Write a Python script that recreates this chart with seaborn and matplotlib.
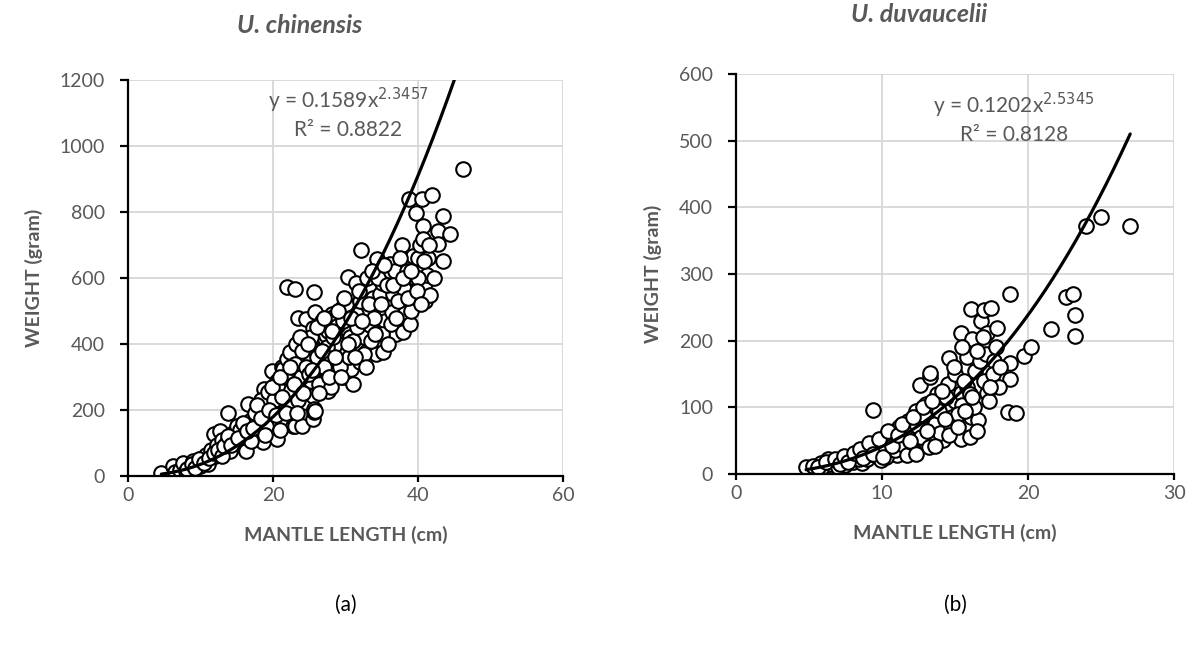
import numpy as np
import pandas as pd
import matplotlib
matplotlib.use("Agg")
import matplotlib.pyplot as plt
import seaborn as sns

# ---------------- data ----------------
titles = ["U. chinensis", "U. duvaucelii"]
panel_tags = ["(a)", "(b)"]
x_label = "MANTLE LENGTH (cm)"
y_label = "WEIGHT (gram)"

chin_x = [4.6, 6.2, 6.5, 7.2, 7.6, 8.0, 8.5, 9.0, 9.5, 9.9, 10.3, 10.8, 11.0, 11.5, 11.8, 12.0, 12.3, 12.7,
          13.0, 13.6, 13.8, 14.0, 14.5, 15.0, 15.4, 15.8, 16.1, 16.3, 16.6, 16.8, 17.0, 17.3, 17.7, 18.0, 18.2, 18.6, 18.7, 18.7,
          19.1, 19.5, 19.8, 20.0, 20.3, 20.5, 20.5, 20.7, 21.0, 21.2, 21.4, 21.4, 21.9, 21.9, 22.2, 22.3, 22.6, 22.8, 23.1, 23.0,
          23.2, 23.5, 23.7, 24.0, 24.2, 24.4, 24.6, 24.6, 24.6,
          25.1, 25.1, 25.3, 25.5, 25.5, 25.5, 25.6, 25.6, 25.6, 25.8, 25.8, 26.2, 26.5, 26.9, 27.2, 27.3, 27.6, 27.6, 27.9, 28.1,
          28.3, 28.5, 29.0, 29.0, 29.5, 29.7, 30.0, 30.2, 30.3, 30.3, 30.6, 30.7,
          31.0, 31.2, 31.5, 31.5, 32.0, 32.2, 32.5, 33.0, 33.4, 33.4, 33.8, 34.2, 34.3, 34.6, 34.8, 35.0, 35.2, 35.5, 36.0, 36.1,
          36.4, 36.6,
          37.0, 37.7, 37.8, 37.9, 37.9, 38.1, 38.2, 38.8, 38.9, 39.3, 39.3, 39.6, 39.7, 40.0, 40.3, 40.5, 40.7, 40.7, 41.0, 41.0,
          41.2, 41.4, 41.7, 41.9, 42.7, 42.7, 43.4, 43.5, 44.4, 46.2,
          14.8, 15.5, 16.0, 17.0, 17.5, 18.4, 19.0, 19.3, 19.8, 20.2, 20.8, 21.0, 21.6, 22.0, 22.5, 23.0, 23.4, 23.8, 24.0, 24.5,
          25.0, 25.3, 26.0, 26.4, 26.8, 27.0, 27.5, 28.0, 28.3, 28.8, 29.2, 29.6, 30.0, 30.5, 31.0, 31.6, 32.0, 32.6, 33.0, 33.5,
          34.0, 34.5, 35.0, 35.7, 36.3, 36.8, 37.3, 38.5, 39.0, 40.0, 40.8,
          8.2, 8.8, 9.3, 9.8, 10.5, 11.2, 11.8, 12.4, 12.9, 13.3, 13.8, 14.2,
          15.2, 15.9, 16.4, 17.2, 17.8, 18.3, 18.9, 19.4, 19.9, 20.4, 21.0, 21.3, 21.8, 22.4, 22.9, 23.3,
          23.7, 24.1, 24.8, 25.4, 26.0, 26.3, 26.7, 27.1, 27.7, 28.1, 28.6, 29.0, 29.4, 29.8, 30.4, 30.8,
          31.3, 31.8, 32.3, 32.8, 33.2, 33.7, 34.1, 34.9, 35.3, 35.9, 36.5, 37.0, 37.5, 38.0, 38.6, 39.1, 39.8, 40.4, 41.5, 42.2]
chin_y = [8, 30, 12, 18, 40, 15, 28, 45, 40, 30, 55, 65, 35, 80, 127, 60, 95, 135,
          110, 102, 192, 75, 130, 150, 127, 95, 82, 76, 218, 147, 170, 120, 163, 200, 140, 103, 187, 263,
          182, 220, 318, 250, 160, 112, 288, 284, 200, 330, 167, 323, 354, 572, 240, 375, 303, 151, 567, 152,
          399, 480, 329, 151, 270, 224, 354, 273, 475,
          394, 363, 288, 447, 242, 172, 556, 193, 203, 496, 196, 330, 420, 284, 414, 426, 438, 257, 366, 490,
          483, 310, 400, 350, 508, 299, 450, 375, 604, 438, 420, 323,
          280, 500, 586, 490, 345, 686, 420, 380, 460, 456, 540, 369, 656, 496, 550, 586, 375, 470, 520, 641,
          497, 550,
          430, 626, 701, 574, 435, 568, 493, 840, 460, 668, 535, 599, 798, 662, 701, 839, 759, 719, 586, 529,
          610, 662, 547, 852, 742, 704, 650, 787, 734, 931,
          110, 140, 120, 105, 190, 230, 150, 255, 200, 230, 265, 140, 300, 210, 260, 340, 230, 300, 380, 330,
          310, 420, 360, 280, 470, 330, 390, 270, 420, 455, 330, 470, 520, 360, 410, 450, 530, 370, 600, 410,
          480, 600, 430, 580, 460, 620, 530, 620, 500, 600, 650,
          22, 35, 25, 50, 40, 55, 70, 80, 60, 90, 120, 95,
          115, 160, 135, 145, 215, 175, 125, 200, 270, 185, 300, 240, 190, 330, 280, 190,
          420, 250, 400, 320, 450, 250, 380, 480, 300, 440, 360, 500, 300, 540, 400, 480,
          360, 560, 470, 330, 520, 620, 430, 520, 640, 400, 580, 480, 660, 600, 540, 620, 560, 520, 700, 600]

duv_x = [4.8, 5.8, 6.0, 6.3, 6.5, 7.0, 7.2, 7.5, 7.8, 8.0, 8.3, 8.6, 8.8, 9.0, 9.2, 9.4, 9.5, 9.7, 9.9,
         10.0, 10.2, 10.4, 10.6, 10.8, 11.0, 11.0, 11.2, 11.4, 11.6, 11.8, 12.0, 12.2, 12.3, 12.5, 12.6, 12.6, 12.8, 13.0, 13.0,
         13.3, 13.3, 13.3, 13.5, 13.5, 13.7, 13.8, 14.0, 14.2, 14.3, 14.5, 14.6, 14.8, 15.0, 15.0, 15.4, 15.4, 15.4, 15.5, 15.8, 15.8,
         16.0, 16.1, 16.1, 16.2, 16.4, 16.6, 16.7, 16.8, 17.0, 17.1, 17.2, 17.2, 17.3, 17.5, 17.7, 17.9, 18.3, 18.6,
         18.8, 18.8, 18.8, 19.2, 19.7, 20.2, 21.6, 22.6, 23.1, 23.2, 23.2, 24.0, 25.0, 27.0,
         8.4, 8.9, 9.3, 9.6, 10.0, 10.3, 10.5, 10.9, 11.3, 11.5, 11.7, 12.0, 12.4, 12.7, 12.9, 13.2, 13.6, 13.9, 14.0, 14.4,
         14.7, 15.2, 15.6, 16.0, 16.3, 16.5, 17.0, 17.6, 18.0,
         5.3, 5.6, 6.2, 6.8, 7.1, 7.4, 7.7, 8.1, 8.5, 8.7, 9.1, 9.4, 9.8, 10.1, 10.4, 10.7, 11.1, 11.4, 11.9, 12.1,
         12.3, 12.8, 13.1, 13.4, 13.6, 14.1, 14.3, 14.6, 14.9, 15.2, 15.5, 15.7, 16.2, 16.5, 16.9, 17.4, 17.8, 18.1]
duv_y = [10, 16, 12, 23, 15, 11, 20, 14, 25, 18, 30, 16, 35, 22, 40, 96, 28, 45, 21,
         35, 55, 30, 48, 62, 29, 40, 70, 52, 35, 80, 60, 36, 95, 45, 66, 134, 78, 46, 105,
         146, 66, 151, 59, 90, 51, 120, 75, 51, 100, 135, 174, 85, 110, 150, 212, 121, 53, 103, 176, 130,
         56, 247, 86, 202, 155, 81, 169, 229, 246, 180, 212, 121, 110, 249, 169, 219, 142, 93,
         270, 167, 142, 92, 177, 190, 217, 266, 270, 238, 207, 372, 385, 372,
         22, 28, 32, 38, 44, 26, 60, 36, 45, 64, 28, 48, 72, 56, 88, 40, 75, 95, 62, 115,
         70, 90, 140, 120, 100, 185, 140, 150, 130,
         12, 10, 18, 22, 15, 27, 18, 32, 38, 24, 46, 30, 52, 25, 65, 42, 58, 75, 50, 85,
         30, 100, 65, 110, 42, 125, 82, 58, 160, 70, 190, 95, 115, 65, 205, 130, 190, 160]

# trend-line equations shown on the chart
chin_a, chin_b, chin_r2 = 0.1589, 2.3457, 0.8822
duv_a, duv_b, duv_r2 = 0.1202, 2.5345, 0.8128

x_ticks = [[0, 20, 40, 60], [0, 10, 20, 30]]
y_ticks = [[0, 200, 400, 600, 800, 1000, 1200], [0, 100, 200, 300, 400, 500, 600]]

# ---------------- style ----------------
sns.set_theme(style="white")
plt.rcParams["font.family"] = ["Lato", "DejaVu Sans"]
GRAY = "#595959"
GRID = "#d9d9d9"

fig = plt.figure(figsize=(11.92, 6.46), dpi=100)
axes = [fig.add_axes([0.1074, 0.2632, 0.3649, 0.6130]),
        fig.add_axes([0.6174, 0.2663, 0.3675, 0.6190])]

datasets = [(chin_x, chin_y, chin_a, chin_b, chin_r2),
            (duv_x, duv_y, duv_a, duv_b, duv_r2)]
eq_pos = [(0.506, 0.949, 0.874), (0.635, 0.9225, 0.8475)]
title_pos = [(0.2517, 0.961), (0.771, 0.977)]

for i, ax in enumerate(axes):
    xs, ys, a, b, r2 = datasets[i]
    df = pd.DataFrame({"x": xs, "y": ys})
    xmax = x_ticks[i][-1]
    ymax = y_ticks[i][-1]
    # trend line over the data range
    lx = np.linspace(min(xs), max(xs), 300)
    ly = a * lx ** b
    keep = ly <= ymax * 1.02
    tdf = pd.DataFrame({"x": lx[keep], "y": ly[keep]})
    sns.scatterplot(data=df, x="x", y="y", ax=ax, s=110, facecolor="white",
                    edgecolor="black", linewidth=1.5, zorder=3, legend=False)
    sns.lineplot(data=tdf, x="x", y="y", ax=ax, color="black", linewidth=2.3,
                 estimator=None, sort=False, zorder=4, legend=False)

    ax.set_xlim(0, xmax)
    ax.set_ylim(0, ymax)
    ax.set_xticks(x_ticks[i])
    ax.set_yticks(y_ticks[i])
    ax.grid(True, color=GRID, linewidth=1.4, zorder=0)
    ax.set_axisbelow(True)
    for s in ["top", "right"]:
        ax.spines[s].set_visible(False)
    for s in ["left", "bottom"]:
        ax.spines[s].set_color("black")
        ax.spines[s].set_linewidth(1.6)
        ax.spines[s].set_zorder(5)
    ax.tick_params(axis="y", which="major", direction="out", length=5.5, width=1.6,
                   color="black", labelcolor=GRAY, labelsize=14, pad=11, left=True)
    ax.tick_params(axis="x", which="major", direction="out", length=4, width=1.6,
                   color="black", labelcolor=GRAY, labelsize=14, pad=4, bottom=True)
    ax.set_xlabel(x_label, fontsize=14, fontweight="bold", color=GRAY, labelpad=16)
    ax.set_ylabel(y_label, fontsize=14, fontweight="bold", color=GRAY, labelpad=12)

    ex, ey1, ey2 = eq_pos[i]
    ax.text(ex, ey1, f"y = {a}x$^{{{b}}}$", transform=ax.transAxes, ha="center",
            va="center", fontsize=15, color=GRAY, zorder=6)
    ax.text(ex, ey2, f"R² = {r2}", transform=ax.transAxes, ha="center",
            va="center", fontsize=15, color=GRAY, zorder=6)

    tx, ty = title_pos[i]
    fig.text(tx, ty, titles[i], ha="center", va="center",
             fontsize=18, fontweight="bold", fontstyle="italic", color=GRAY)
    pos = ax.get_position()
    cx = (pos.x0 + pos.x1) / 2
    fig.text(cx, 1 - 605 / 646, panel_tags[i], ha="center", va="center",
             fontsize=15, color="black")

fig.savefig("out.png", dpi=100)
